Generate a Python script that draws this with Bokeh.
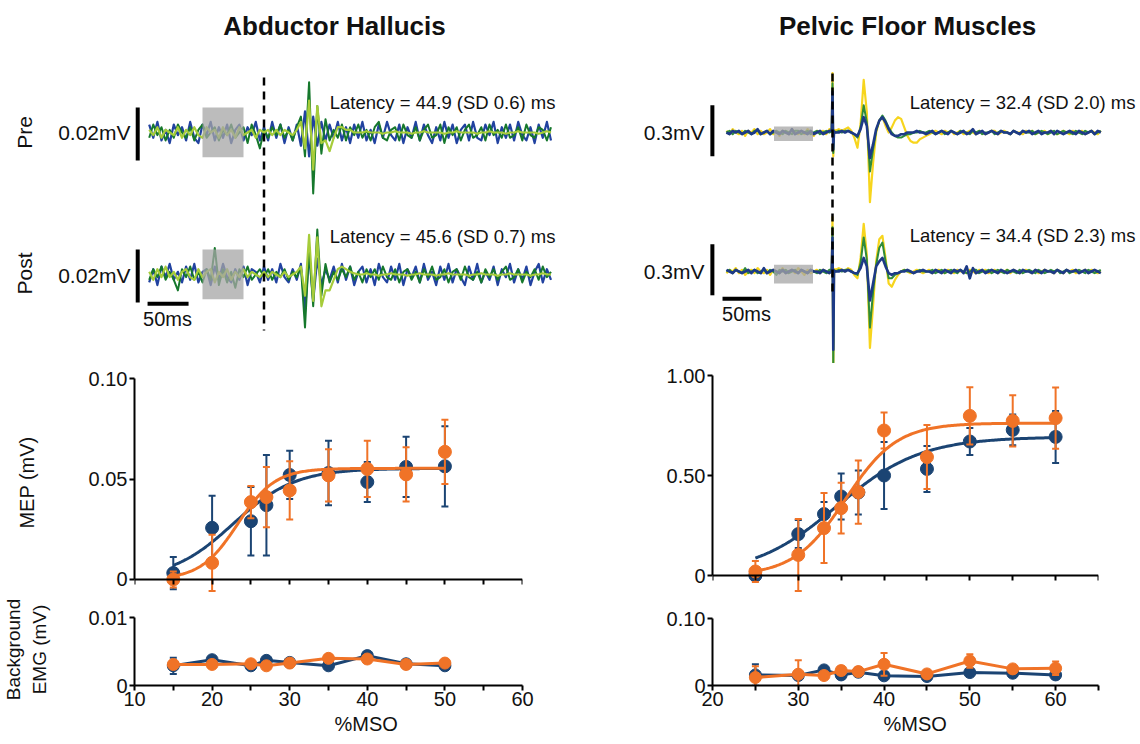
import numpy as np
from bokeh.plotting import figure
from bokeh.layouts import column, row
from bokeh.models import Range1d, FixedTicker, Title
from bokeh.core.properties import value
from bokeh.embed import file_html
from bokeh.resources import INLINE

FONT = "Liberation Sans"
INK = "#111111"
NAVY = "#1b4473"
ORANGE = "#f07327"
TR_BLUE = "#2142a0"
TR_DKGREEN = "#16782c"
TR_LIME = "#a6cc3a"
TR_YELLOW = "#f7d51d"
TR_GREEN = "#2f8c3a"
TR_NAVY = "#1d3a86"

# ------------------------------------------------------------------
# Recruitment curves (%MSO vs MEP / background EMG, mV)
# ------------------------------------------------------------------
AH_MSO = [15, 20, 25, 27, 30, 35, 40, 45, 50]
AH_MEP_PRE = [0.0032, 0.0257, 0.029, 0.037, 0.052, 0.053, 0.0485, 0.056, 0.0563]
AH_MEP_PRE_SD = [0.008, 0.016, 0.017, 0.025, 0.012, 0.016, 0.010, 0.015, 0.020]
AH_MEP_POST = [0.0, 0.0083, 0.0385, 0.041, 0.0443, 0.0518, 0.055, 0.0523, 0.0635]
AH_MEP_POST_SD = [0.004, 0.014, 0.008, 0.015, 0.0145, 0.013, 0.014, 0.0135, 0.016]
# Boltzmann fit parameters (MEPmax, S50, slope)
AH_FIT_PRE = (0.0553, 22.7, 4.0)
AH_FIT_POST = (0.0553, 23.3, 2.4)
AH_EMG_PRE = [0.0029, 0.0038, 0.0029, 0.0037, 0.0034, 0.0029, 0.0044, 0.0032, 0.0029]
AH_EMG_PRE_SD = [0.0012, 0.0004, 0.0005, 0.0006, 0.0003, 0.0003, 0.0005, 0.0003, 0.0006]
AH_EMG_POST = [0.0031, 0.0031, 0.0032, 0.0029, 0.0033, 0.0040, 0.0039, 0.0031, 0.0033]
AH_EMG_POST_SD = [0.0005, 0.0003, 0.0004, 0.0003, 0.0003, 0.0003, 0.0004, 0.0003, 0.0004]

PF_MSO = [25, 30, 33, 35, 37, 40, 45, 50, 55, 60]
PF_MEP_PRE = [0.0, 0.207, 0.307, 0.395, 0.415, 0.50, 0.533, 0.67, 0.728, 0.693]
PF_MEP_PRE_SD = [0.02, 0.07, 0.06, 0.115, 0.11, 0.167, 0.115, 0.067, 0.077, 0.13]
PF_MEP_POST = [0.02, 0.103, 0.237, 0.337, 0.417, 0.725, 0.592, 0.798, 0.773, 0.787]
PF_MEP_POST_SD = [0.053, 0.18, 0.175, 0.127, 0.158, 0.09, 0.16, 0.143, 0.128, 0.153]
PF_FIT_PRE = (0.693, 34.5, 4.9)
PF_FIT_POST = (0.762, 35.5, 3.0)
PF_EMG_PRE = [0.0158, 0.0149, 0.0233, 0.0158, 0.0198, 0.0144, 0.0134, 0.0193, 0.0183, 0.0158]
PF_EMG_PRE_SD = [0.016, 0.004, 0.003, 0.004, 0.003, 0.004, 0.003, 0.003, 0.003, 0.003]
PF_EMG_POST = [0.0119, 0.0168, 0.0149, 0.0223, 0.0208, 0.0317, 0.0173, 0.0366, 0.0248, 0.0257]
PF_EMG_POST_SD = [0.017, 0.021, 0.004, 0.006, 0.006, 0.017, 0.004, 0.010, 0.005, 0.010]

# ------------------------------------------------------------------
# Example EMG sweeps
# Abductor hallucis: samples every 5 ms from -140 ms, values in microvolts
# ------------------------------------------------------------------
AH_T_MS = list(range(-140, 351, 5))
AH_PRE_BLUE = [
    3, -2, 4, -3, 1, -4, 3, -1, 2, -3, 4, -2, -4, 3, -1, 4, -3, 2, -2, 3, -4, 1, 3, -3, 2, -1, 4, -3,
    2, -3, 4, -2, 3, -4, 2, -3, 3,
    -5, 8, -9, 6, -5, 4, -3, 3, -2,
    4, -3, 2, -4, 3, -2, 4, -3, 1, -4, 3, -2, 4, -1, -3, 3, -4, 2, -2, 4, -3, 3, -1, -4, 2, -3,
    4, -2, 3, -4, 1, 3, -3, 4, -2, -3, 3, -1, 4, -4, 2, -2, 3, -3, 4, -1, -3, 2, -4, 3, -2, 4, -3]
AH_PRE_GREEN = [
    -2, 3, -1, 2, -3, 1, -2, 3, 0, -2, 2, -3, 1, 3, -2, 0, 2, -3, 1, -1, 3, -2, 0, 2, -4, 3, -1, -6,
    1, -2, 2, -1, 3, -2, 1, -3, 2,
    6, -9, 19, -23, 10, -8, 5, -3, 1,
    -2, 3, -3, 2, -1, 3, -2, 1, -3, 2, 4, -2, -3, 1, 2, -3, 3, -1, -2, 2, -3, 1, 3, -2, -1, 3,
    -4, 2, -1, 2, -3, 1, 3, -2, -1, 2, -3, 3, -1, 1, -2, 3, -2, -1, 2, -3, 3, -1, -2, 2, 1, -3, 2]
AH_PRE_LIME = [
    1, -1, 2, -2, 1, 0, -1, 2, -2, 1, -1, 2, -1, -2, 2, 0, 1, -2, 2, -1, 1, -2, 2, -1, 0, 1, -2, 1,
    0, 1, -1, 1, -1, 1, 0, -1, 1,
    4, -6, 12, -14, 10, -4, -3, -7, -2,
    2, 2, 1, 1, 0, 0, 0, 0.5, 0, 0, 0, -0.5, 0, 0, 0.5, 0, 0, 0, -0.5, 0, 0, 0.5, 0, 0, 0, 0,
    -0.5, 0, 0, 0.5, 0, 0, 0, 0, -0.5, 0, 0, 0.5, 0, 0, 0, -0.5, 0, 0, 0.5, 0, 0, 0, 0, -0.5, 0, 0.5, 0]
AH_POST_BLUE = [
    -3, 2, -4, 3, -1, 4, -2, 1, -3, 3, -2, 4, -3, 1, 2, -4, 3, -2, 4, -1, -3, 2, -2, 3, -4, 2, 1, -3,
    3, -2, 2, -3, 4, -1, -3, 2, -2,
    4, -14, 8, -10, 6, -4, 2, -2, 3,
    -3, 4, -2, 3, -4, 1, 3, -3, 2, -4, 4, -1, -3, 3, -2, 4, -4, 2, -1, 3, -3, 4, -2, 1, -4, 3,
    -2, 4, -3, 2, -1, -4, 3, -2, 4, -3, 1, -2, 3, -4, 2, -1, 4, -3, 2, -2, 3, -4, 1, 4, -3, 2, -2]
AH_POST_GREEN = [
    -2, 2, -1, 3, -2, 1, -2, -6, 2, -1, 3, -2, 1, -3, 2, -2, 10, -4, 2, -3, 1, -5, 2, -1, 3, -2, 0, 2,
    -1, 2, -2, 1, -1, 2, -2, 1, -1,
    3, -20, 10, -12, 17, -8, 4, -3, 1,
    -2, 2, -1, 3, -2, 1, -3, 2, -1, 2, -2, 3, -1, -2, 2, -3, 1, 2, -2, 1, -3, 2, -1, 3, -2, -1,
    2, -3, 1, 2, -2, 3, -1, -2, 1, -3, 2, -1, 2, -2, 1, 3, -2, -1, 2, -3, 1, -1, 2, -2, 3, -1, 1]
AH_POST_LIME = [
    1, -2, 2, -1, 3, -1, 1, -2, 1, 2, -1, -2, 2, -1, 1, 2, -3, 1, -1, 2, -2, 1, -1, 2, -1, 1, 0, -1,
    1, -1, 1, 0, -1, 1, -1, 0, 1,
    3, -8, 15, -10, 14, -12, -6, -6, -2,
    2, 3, 2, 1, 0.5, 0, 0, 0.5, 0, 0, -0.5, 0, 0, 0.5, 0, 0, 0, -0.5, 0, 0, 0.5, 0, 0, 0, -0.5, 0,
    0, 0.5, 0, 0, 0, 0, -0.5, 0, 0, 0.5, 0, 0, 0, -0.5, 0, 0, 0.5, 0, 0, 0, 0, -0.5, 0, 0, 0.5, 0, 0]

# Pelvic floor: samples every 4 ms from -136 ms, values in units of 0.01 mV
PF_T_MS = list(range(-136, 345, 4))
PF_PRE_YELLOW = [
    1, -1, 2, 0, -1, 1, -2, 1, 0, 2, -1, 1, -1, 0, 2, -1, 1, -2, 1, 0, -1, 2, 0, -1, 1, -1, 2, 0, -2, 1, 0, 1, -1, 2,
    2,
    1, 2, 1, 2, 3, 1, -3, -9, 5, 31, 12, -41, -18, 0, 7, 9, 4, 0, 3, 7, 9, 8, 3, -2, -5, -6, -6, -4, -3, -2,
    -1, 0, 1, 0, -1, 1, 0, 1, -1, 0, 1, -1, 0, 1, 0, -1, 1, 0, -1, 0, 1, 1, -1, 0, 1, 0, -1, 1,
    0, 0, -1, 1, 0, 1, -1, 0, 0, 1, -1, 1, 0, -1, 0, 1, 0, -1, 1, 0, 0, 1, -1, 0, 1, 0, -1, 1]
PF_PRE_GREEN = [
    0, 1, -1, 1, 0, -1, 1, 0, -1, 1, 1, -1, 0, 1, -1, 0, 1, 0, -1, 1, 0, -1, 1, 1, -1, 0, 1, -1, 0, 1, -1, 0, 1, 0,
    1,
    0, 1, 0, 1, 1, 0, -1, -3, 3, 16, 6, -23, -10, 1, 7, 10, 7, 3, 0, -2, -3, -3, -2, -1, -1, 0, 0, 1, 0, 0,
    1, 0, -1, 0, 1, -1, 0, 1, 0, -1, 1, 0, 0, -1, 1, 0, 1, -1, 0, 0, 1, -1, 0, 1, 0, 0, -1, 1,
    0, -1, 1, 0, 0, 1, -1, 0, 1, 0, -1, 0, 1, -1, 0, 1, 0, 0, -1, 1, 0, -1, 1, 0, 1, -1, 0, 1]
PF_PRE_NAVY = [
    0, -1, 1, 0, 1, -1, 0, 1, -1, 0, 2, -1, 0, 1, -1, 1, 0, -1, 1, 0, -1, 2, -1, 0, 1, 0, -1, 1, -1, 0, 1, -1, 0, 1,
    1,
    0, 0, 1, 0, 1, 0, -1, -2, 2, 9, 4, -15, -7, 2, 7, 9, 6, 2, -1, -2, -2, -1, -1, 0, 0, 0, 1, 0, 0, -1,
    0, 1, -1, 0, 1, 0, -1, 1, 0, -1, 0, 1, -1, 0, 2, -1, 0, 1, -1, 0, 1, 0, -1, 1, 0, 0, -1, 1,
    0, -1, 1, 0, 1, -1, 0, 1, -1, 0, 0, 1, -1, 1, 0, -1, 0, 1, 0, -1, 1, 0, -1, 0, 1, -1, 1, 0]
PF_POST_YELLOW = [
    -1, 1, 0, 2, -1, 1, -2, 0, 1, -1, 2, 0, -1, 1, -2, 1, 0, -1, 2, -1, 0, 1, -1, 2, 0, -2, 1, -1, 0, 1, -1, 1, 0, -1,
    2,
    1, 2, 1, 0, 2, 1, -2, -4, 8, 28, 10, -45, -20, 6, 19, 21, 8, -7, -9, -5, -2, 0, 1, 0, -1, 0, 1, 0, -1, 0,
    1, -1, 0, 1, 0, -1, 1, 0, -1, 1, 0, 0, -1, 1, 0, -1, 1, 0, 1, -1, 0, 1, -1, 0, 0, 1, -1, 1,
    0, -1, 0, 1, 0, -1, 1, -1, 0, 1, 0, 0, -1, 1, 0, -1, 1, 0, 1, -1, 0, 0, 1, -1, 1, 0, -1, 0]
PF_POST_GREEN = [
    0, 1, -1, 1, 0, -1, 2, -1, 0, 1, -1, 0, 1, -1, 1, 0, -2, 1, 0, 1, -1, 0, 1, -1, 1, 0, -1, 1, 0, -1, 1, 0, -1, 1,
    1,
    0, 1, 0, 1, 1, 0, -1, -2, 5, 20, 7, -33, -12, 4, 14, 17, 6, -4, -4, -2, -1, 0, 1, 0, 0, -1, 0, 1, 0, 0,
    0, 1, -1, 0, 1, -1, 0, 1, 0, -1, 1, 0, -1, 0, 1, 1, -1, 0, 0, 1, -1, 0, 1, 0, -1, 1, 0, 0,
    -1, 1, -1, 0, 1, 0, -1, 1, 0, -1, 0, 1, 0, 1, -1, 0, 1, -1, 0, 0, 1, 0, -1, 1, 0, -1, 0, 1]
PF_POST_NAVY = [
    1, 0, -1, 1, 0, -1, 0, 1, -1, 1, 0, -1, 2, -1, 0, 1, 0, -1, 1, -1, 0, 1, 0, -1, 1, 0, -1, 1, 0, 0, -1, 1, 0, -1,
    1,
    0, 0, 1, 0, 1, 0, -1, -1, 2, 8, 3, -17, -7, 3, 6, 8, 3, -1, -2, -1, -1, 0, 0, 1, 0, -1, 0, 0, 1, 0,
    0, -1, 1, 0, -1, 1, 0, -1, 1, 0, 1, -1, 3, -4, 2, -1, 0, 1, -1, 0, 1, 0, -1, 1, 0, -1, 0, 1,
    0, -1, 1, 0, 0, -1, 1, 0, -1, 1, 0, 0, -1, 1, 0, -1, 1, 0, 0, 1, -1, 0, 1, -1, 0, 1, 0, -1]
# stimulus artefact (ms, 0.01 mV)
PF_ART_T = [-1, 0, 1, 2]
PF_ART_PRE = {"yellow": [1, 35, -14, 1], "green": [1, 29, -12, 1], "navy": [1, 24, -10, 1]}
PF_ART_POST = {"yellow": [1, 32, -62, 1], "green": [1, 26, -56, 1], "navy": [1, 20, -46, 1]}

# background-EMG window (ms) and scale bars
BG_WIN_MS = (-75, -25)
AH_BOX_UV = (-9.3, 9.4)
PF_BOX_PRE = (-5.0, 3.5)
PF_BOX_POST = (-7.0, 4.0)
AH_VBAR_UV = (-10.6, 9.4)      # 0.02 mV
PF_VBAR_U = (-14.0, 16.0)      # 0.3 mV
AH_TBAR_MS = (-142, -92)       # 50 ms
PF_TBAR_MS = (-141, -91)       # 50 ms

LAT_TEXT = {
    "ah_pre": "Latency = 44.9 (SD 0.6) ms", "ah_post": "Latency = 45.6 (SD 0.7) ms",
    "pf_pre": "Latency = 32.4 (SD 2.0) ms", "pf_post": "Latency = 34.4 (SD 2.3) ms",
}

# ------------------------------------------------------------------
# Layout constants (pixels)
# ------------------------------------------------------------------
W_TOP, H_TOP = 1138, 363
AH_STIM_PX, AH_PX_PER_MS = 263.5, 0.82
PF_STIM_PX, PF_PX_PER_MS = 832.0, 0.78
AH_PX_PER_UV = 2.65
PF_PX_PER_U = 1.70
BASE = {"ah_pre": 132, "ah_post": 274, "pf_pre": 132, "pf_post": 271}


def yr(base, scale):
    return Range1d(start=-(H_TOP - base) / scale, end=base / scale)


def xr(stim, scale):
    return Range1d(start=-stim / scale, end=(W_TOP - stim) / scale)


top = figure(width=W_TOP, height=H_TOP, x_range=Range1d(0, W_TOP), y_range=Range1d(H_TOP, 0),
             x_axis_location=None, y_axis_location=None, output_backend="svg",
             toolbar_location=None, min_border=0)
top.grid.visible = False
top.outline_line_color = None
top.extra_x_ranges = {"ah": xr(AH_STIM_PX, AH_PX_PER_MS), "pf": xr(PF_STIM_PX, PF_PX_PER_MS)}
top.extra_y_ranges = {
    "ah_pre": yr(BASE["ah_pre"], AH_PX_PER_UV), "ah_post": yr(BASE["ah_post"], AH_PX_PER_UV),
    "pf_pre": yr(BASE["pf_pre"], PF_PX_PER_U), "pf_post": yr(BASE["pf_post"], PF_PX_PER_U),
}


def trace(t, v, color, width, xname, yname):
    n = min(len(t), len(v))
    top.line(t[:n], v[:n], line_color=color, line_width=width, line_join="round",
             x_range_name=xname, y_range_name=yname)


def txt(x, y, s, size, align="center", angle=0.0, bold=False):
    top.text(x=[x], y=[y], text=[s], text_font=value(FONT), text_font_size=size,
             text_align=align, text_baseline="middle", angle=angle, text_color=INK,
             text_font_style="bold" if bold else "normal")


# Abductor hallucis sweeps
trace(AH_T_MS, AH_PRE_BLUE, TR_BLUE, 2.2, "ah", "ah_pre")
trace(AH_T_MS, AH_PRE_GREEN, TR_DKGREEN, 2.0, "ah", "ah_pre")
trace(AH_T_MS, AH_PRE_LIME, TR_LIME, 2.2, "ah", "ah_pre")
trace(AH_T_MS, AH_POST_BLUE, TR_BLUE, 2.2, "ah", "ah_post")
trace(AH_T_MS, AH_POST_GREEN, TR_DKGREEN, 2.0, "ah", "ah_post")
trace(AH_T_MS, AH_POST_LIME, TR_LIME, 2.2, "ah", "ah_post")

# Pelvic floor sweeps
for yname, ys, art in (("pf_pre", (PF_PRE_YELLOW, PF_PRE_GREEN, PF_PRE_NAVY), PF_ART_PRE),
                       ("pf_post", (PF_POST_YELLOW, PF_POST_GREEN, PF_POST_NAVY), PF_ART_POST)):
    for v, c, w, k in zip(ys, (TR_YELLOW, TR_GREEN, TR_NAVY), (2.2, 2.0, 2.6), ("yellow", "green", "navy")):
        trace(PF_T_MS, v, c, w, "pf", yname)
        trace(PF_ART_T, art[k], c, w, "pf", yname)

# background windows
for yname, b in (("ah_pre", AH_BOX_UV), ("ah_post", AH_BOX_UV)):
    top.quad(left=[BG_WIN_MS[0]], right=[BG_WIN_MS[1]], bottom=[b[0]], top=[b[1]],
             fill_color="#a6a6a6", fill_alpha=0.75, line_color=None, x_range_name="ah", y_range_name=yname)
for yname, b in (("pf_pre", PF_BOX_PRE), ("pf_post", PF_BOX_POST)):
    top.quad(left=[BG_WIN_MS[0]], right=[BG_WIN_MS[1]], bottom=[b[0]], top=[b[1]],
             fill_color="#a6a6a6", fill_alpha=0.75, line_color=None, x_range_name="pf", y_range_name=yname)

# stimulus dashed lines
top.segment(x0=[0], y0=[20.8], x1=[0], y1=[-74.7], line_color="black", line_width=2.5,
            line_dash="8 6", x_range_name="ah", y_range_name="ah_pre")
top.segment(x0=[0], y0=[34.7], x1=[0], y1=[-94.7], line_color="black", line_width=2.5,
            line_dash="8 6", x_range_name="pf", y_range_name="pf_pre")

# scale bars
for yname in ("ah_pre", "ah_post"):
    top.segment(x0=[-154], y0=[AH_VBAR_UV[0]], x1=[-154], y1=[AH_VBAR_UV[1]], line_color="black",
                line_width=4, x_range_name="ah", y_range_name=yname)
for yname in ("pf_pre", "pf_post"):
    top.segment(x0=[-154], y0=[PF_VBAR_U[0]], x1=[-154], y1=[PF_VBAR_U[1]], line_color="black",
                line_width=4, x_range_name="pf", y_range_name=yname)
top.segment(x0=[AH_TBAR_MS[0]], y0=[-11], x1=[AH_TBAR_MS[1]], y1=[-11], line_color="black",
            line_width=4, x_range_name="ah", y_range_name="ah_post")
top.segment(x0=[PF_TBAR_MS[0]], y0=[-16], x1=[PF_TBAR_MS[1]], y1=[-16], line_color="black",
            line_width=4, x_range_name="pf", y_range_name="pf_post")

# texts
txt(334, 25, "Abductor Hallucis", "26px", bold=True)
txt(907, 25, "Pelvic Floor Muscles", "26px", bold=True)
txt(24, 132, "Pre", "21px", angle=np.pi / 2)
txt(24, 273, "Post", "21px", angle=np.pi / 2)
txt(130, 132, "0.02mV", "21px", align="right")
txt(130, 275, "0.02mV", "21px", align="right")
txt(704, 132, "0.3mV", "21px", align="right")
txt(704, 271, "0.3mV", "21px", align="right")
txt(555, 102, LAT_TEXT["ah_pre"], "18.5px", align="right")
txt(555, 236, LAT_TEXT["ah_post"], "18.5px", align="right")
txt(1135, 102, LAT_TEXT["pf_pre"], "18.5px", align="right")
txt(1135, 235, LAT_TEXT["pf_post"], "18.5px", align="right")
txt(167, 318, "50ms", "20px")
txt(746, 313, "50ms", "20px")


# ------------------------------------------------------------------
# Recruitment panels
# ------------------------------------------------------------------
def make_panel(fw, fh, xrange_, yrange_, bl, br, bt, bb):
    p = figure(frame_width=fw, frame_height=fh, x_range=Range1d(*xrange_), y_range=Range1d(*yrange_),
               output_backend="svg", toolbar_location=None, min_border_left=bl, min_border_right=br,
               min_border_top=bt, min_border_bottom=bb)
    p.grid.visible = False
    p.outline_line_color = None
    for ax in p.axis:
        ax.axis_line_width = 2
        ax.axis_line_color = "black"
        ax.major_tick_line_width = 2
        ax.minor_tick_line_width = 2
        ax.major_tick_line_color = "black"
        ax.minor_tick_line_color = "black"
        ax.major_tick_in = 0
        ax.major_tick_out = 5
        ax.minor_tick_in = 0
        ax.minor_tick_out = 5
        ax.major_label_text_font = FONT
        ax.major_label_text_font_size = "20px"
        ax.major_label_text_color = INK
        ax.axis_label_text_font = FONT
        ax.axis_label_text_font_size = "20px"
        ax.axis_label_text_font_style = "normal"
        ax.axis_label_text_color = INK
    return p


def errbars(p, x, y, sd, color):
    lo = [a - b for a, b in zip(y, sd)]
    hi = [a + b for a, b in zip(y, sd)]
    p.segment(x0=x, y0=lo, x1=x, y1=hi, line_color=color, line_width=2)
    p.scatter(x=list(x) + list(x), y=lo + hi, marker="dash", size=7, line_color=color, line_width=2)


def fit_line(p, x, params, color):
    top_, s50, k = params
    xs = np.linspace(x[0], x[-1], 200)
    ys = top_ / (1.0 + np.exp((s50 - xs) / k))
    p.line(xs, ys, line_color=color, line_width=3)


def mep_panel(p, x, pre, pre_sd, post, post_sd, fpre, fpost):
    errbars(p, x, pre, pre_sd, NAVY)
    fit_line(p, x, fpre, NAVY)
    p.scatter(x, pre, size=13, fill_color=NAVY, line_color=NAVY)
    errbars(p, x, post, post_sd, ORANGE)
    fit_line(p, x, fpost, ORANGE)
    p.scatter(x, post, size=13, fill_color=ORANGE, line_color=ORANGE)


def emg_panel(p, x, pre, pre_sd, post, post_sd):
    errbars(p, x, pre, pre_sd, NAVY)
    p.line(x, pre, line_color=NAVY, line_width=3)
    p.scatter(x, pre, size=12, fill_color=NAVY, line_color=NAVY)
    errbars(p, x, post, post_sd, ORANGE)
    p.line(x, post, line_color=ORANGE, line_width=3)
    p.scatter(x, post, size=12, fill_color=ORANGE, line_color=ORANGE)


def style_x(p, major, minor, bounds, labels=True):
    p.xaxis.ticker = FixedTicker(ticks=major, minor_ticks=minor)
    p.xaxis.bounds = bounds
    if labels:
        p.xaxis.major_label_standoff = 1
    else:
        p.xaxis.major_label_text_font_size = "0px"
        p.xaxis.major_label_text_color = None
        p.xaxis.major_label_standoff = 0
        p.xaxis.fixed_location = 0


def style_y(p, ticks, overrides, bounds, label=None, standoff=30, label_size="20px"):
    p.yaxis.ticker = FixedTicker(ticks=ticks)
    p.yaxis.major_label_overrides = overrides
    p.yaxis.bounds = bounds
    p.yaxis.major_label_standoff = 2
    if label:
        p.yaxis.axis_label = label
        p.yaxis.axis_label_standoff = standoff
        p.yaxis.axis_label_text_font_size = label_size


def mso_title(p, offset):
    p.add_layout(Title(text="%MSO", align="left", offset=offset, standoff=5, text_font=FONT,
                       text_font_size="20px", text_font_style="normal", text_color=INK), "below")


AH_MAJOR, AH_MINOR = [10, 20, 30, 40, 50, 60], [15, 25, 35, 45, 55]
PF_MAJOR, PF_MINOR = [20, 30, 40, 50, 60], [25, 35, 45, 55, 65]

ah_mep = make_panel(388, 220, (10, 60), (-0.00647, 0.10299), 133, 20, 9, 5)
style_x(ah_mep, AH_MAJOR, AH_MINOR, (10, 60), labels=False)
style_y(ah_mep, [0, 0.05, 0.1], {0: "0", 0.05: "0.05", 0.1: "0.10"}, (0, 0.1), "MEP (mV)", 48)
mep_panel(ah_mep, AH_MSO, AH_MEP_PRE, AH_MEP_PRE_SD, AH_MEP_POST, AH_MEP_POST_SD, AH_FIT_PRE, AH_FIT_POST)

ah_emg = make_panel(388, 72, (10, 60), (0, 0.0106), 133, 20, 16, 50)
style_x(ah_emg, AH_MAJOR, AH_MINOR, (10, 60))
style_y(ah_emg, [0, 0.01], {0: "0", 0.01: "0.01"}, (0, 0.01), "Background\nEMG (mV)", 36, "19px")
emg_panel(ah_emg, AH_MSO, AH_EMG_PRE, AH_EMG_PRE_SD, AH_EMG_POST, AH_EMG_POST_SD)
mso_title(ah_emg, 200)

pf_mep = make_panel(386, 220, (20, 65), (-0.085, 1.015), 170, 35, 9, 5)
style_x(pf_mep, PF_MAJOR, PF_MINOR, (20, 65), labels=False)
style_y(pf_mep, [0, 0.5, 1.0], {0: "0", 0.5: "0.50", 1.0: "1.00"}, (0, 1.0))
mep_panel(pf_mep, PF_MSO, PF_MEP_PRE, PF_MEP_PRE_SD, PF_MEP_POST, PF_MEP_POST_SD, PF_FIT_PRE, PF_FIT_POST)

pf_emg = make_panel(386, 72, (20, 65), (0, 0.1075), 170, 35, 16, 50)
style_x(pf_emg, PF_MAJOR, PF_MINOR, (20, 65))
style_y(pf_emg, [0, 0.1], {0: "0", 0.1: "0.10"}, (0, 0.1))
emg_panel(pf_emg, PF_MSO, PF_EMG_PRE, PF_EMG_PRE_SD, PF_EMG_POST, PF_EMG_POST_SD)
mso_title(pf_emg, 171)

layout = column(top, row(column(ah_mep, ah_emg), column(pf_mep, pf_emg)))
open("out.html", "w").write(file_html(layout, INLINE, title="MEP recruitment"))
